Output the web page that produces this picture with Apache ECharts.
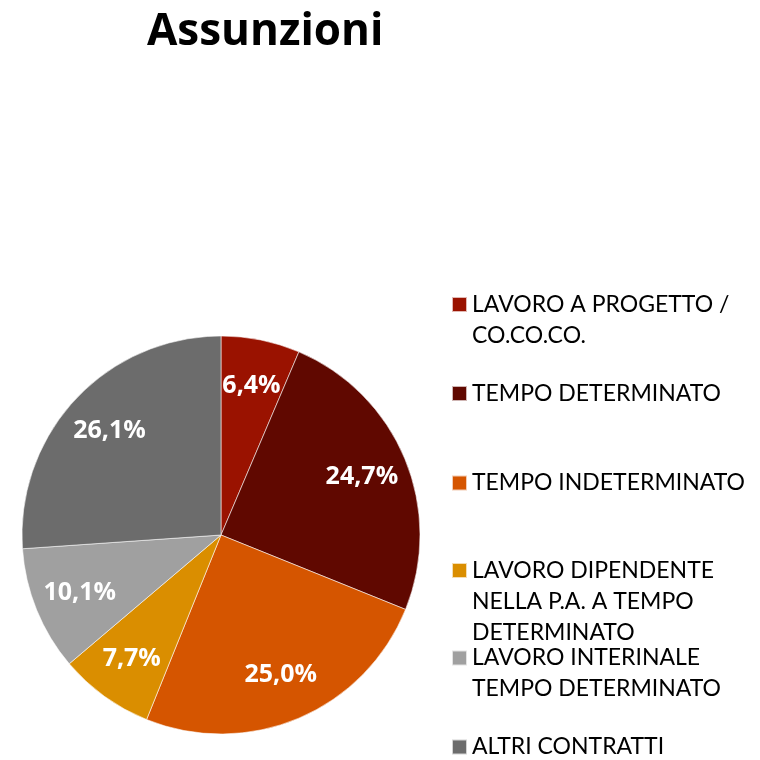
<!DOCTYPE html>
<html>
<head>
<meta charset="utf-8">
<style>
  html, body { margin: 0; padding: 0; background: #fff; }
  #chart { width: 760px; height: 760px; }
</style>
<script src="https://cdn.jsdelivr.net/npm/echarts@6/dist/echarts.min.js"></script>
</head>
<body>
<div id="chart"></div>
<script>
// dati
const categories = [
  'LAVORO A PROGETTO / CO.CO.CO.',
  'TEMPO DETERMINATO',
  'TEMPO INDETERMINATO',
  'LAVORO DIPENDENTE NELLA P.A. A TEMPO DETERMINATO',
  'LAVORO INTERINALE TEMPO DETERMINATO',
  'ALTRI CONTRATTI'
]
const legendLines = [
  ['LAVORO A PROGETTO /', 'CO.CO.CO.'],
  ['TEMPO DETERMINATO'],
  ['TEMPO INDETERMINATO'],
  ['LAVORO DIPENDENTE', 'NELLA P.A. A TEMPO', 'DETERMINATO'],
  ['LAVORO INTERINALE', 'TEMPO DETERMINATO'],
  ['ALTRI CONTRATTI']
]
const values = [6.4, 24.7, 25.0, 7.7, 10.1, 26.1]
const colors = ['#9A1200', '#600800', '#D55500', '#DA8E00', '#A0A0A0', '#6C6C6C']

// posizione verticale delle voci di legenda (centro icona)
const legendCenters = [304.5, 393.5, 483, 570.5, 658, 747]
const LH = 31

const chart = echarts.init(document.getElementById('chart'))

const pieData = categories.map((name, i) => ({
  name,
  value: values[i],
  itemStyle: { color: colors[i] }
}))

// una legenda per voce, così da riprodurre le spaziature irregolari
const legends = categories.map((name, i) => {
  const lines = legendLines[i]
  const pad = lines.length - 1
  const total = lines.length + pad
  return {
    data: [name],
    orient: 'vertical',
    left: 451,
    top: legendCenters[i] - (total * LH) / 2,
    padding: 0,
    itemWidth: 15,
    itemHeight: 15,
    itemGap: 0,
    icon: 'rect',
    selectedMode: false,
    formatter: () => '\n'.repeat(pad) + lines.join('\n'),
    textStyle: {
      fontFamily: 'Lato',
      fontSize: 23,
      color: '#000',
      lineHeight: LH
    }
  }
})

const option = {
  animation: false,
  title: {
    text: 'Assunzioni',
    left: 147,
    top: 10,
    padding: 0,
    textStyle: {
      fontFamily: 'Open Sans',
      fontWeight: 'bold',
      fontSize: 44,
      color: '#000'
    }
  },
  legend: legends,
  series: [
    {
      type: 'pie',
      center: [221, 535],
      radius: [0, 199],
      startAngle: 90,
      clockwise: true,
      silent: true,
      label: { show: false },
      labelLine: { show: false },
      itemStyle: { borderColor: 'rgba(255,255,255,0.7)', borderWidth: 0.8 },
      data: pieData
    },
    {
      // serie trasparente solo per le etichette (circa 3/4 del raggio)
      type: 'pie',
      center: [221, 535],
      radius: [100, 199],
      startAngle: 90,
      clockwise: true,
      silent: true,
      itemStyle: { color: 'rgba(0,0,0,0)', borderWidth: 0 },
      labelLine: { show: false },
      label: {
        show: true,
        position: 'inside',
        color: '#fff',
        fontFamily: 'Open Sans',
        fontWeight: 'bold',
        fontSize: 25,
        formatter: p => p.value.toFixed(1).replace('.', ',') + '%'
      },
      data: categories.map((name, i) => ({ name: name + ' ', value: values[i] }))
    }
  ]
}

chart.setOption(option)
</script>
</body>
</html>
